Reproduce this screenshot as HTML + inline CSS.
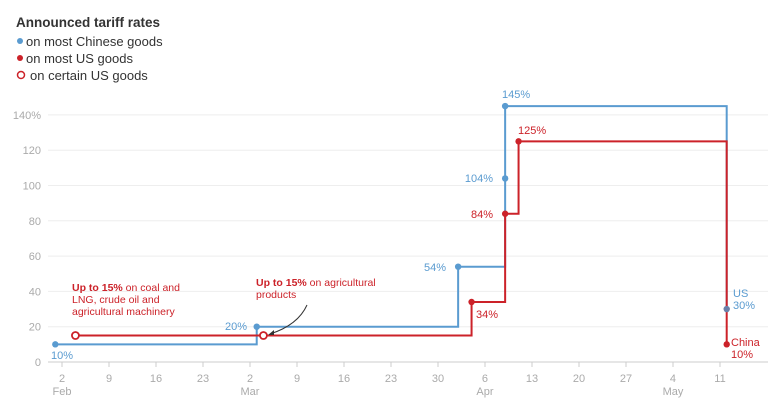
<!DOCTYPE html>
<html><head><meta charset="utf-8"><style>
body{margin:0;background:#fff;font-family:"Liberation Sans",sans-serif;}
svg text{font-family:"Liberation Sans",sans-serif;}
</style></head><body>
<svg width="780" height="401">
<g>
<text x="16" y="27" font-size="13.5" font-weight="bold" fill="#333">Announced tariff rates</text>
<circle cx="20" cy="41" r="3" fill="#5a9bd0"/><text x="26" y="46" font-size="13" fill="#333">on most Chinese goods</text>
<circle cx="20" cy="58" r="3" fill="#cc2229"/><text x="26" y="63" font-size="13" fill="#333">on most US goods</text>
<circle cx="21" cy="75" r="3.5" fill="#fff" stroke="#cc2229" stroke-width="1.5"/><text x="30" y="80" font-size="13" fill="#333">on certain US goods</text>
</g>
<g id="grid"></g><g id="xax"></g><g id="lines"></g><g id="labels"></g>
</svg>
<script>
const yTicks=[0,20,40,60,80,100,120,140];
const xTickDays=[1,8,15,22,29,36,43,50,57,64,71,78,85,92,99];
const xTickLabels=["2","9","16","23","2","9","16","23","30","6","13","20","27","4","11"];
const monthLabels=["Feb","","","","Mar","","","","","Apr","","","","May",""];
const blueDays=[0,30,60,67,67,100];
const blueValues=[10,20,54,104,145,30];
const redDays=[3,62,67,69,100];
const redValues=[15,34,84,125,10];
const openDays=[3,31];
const openValues=[15,15];
const NS="http://www.w3.org/2000/svg";
const X=d=>55.3+6.714*d;
const Y=v=>362-v*1.765;
function mk(tag,attrs,parent,txt){const e=document.createElementNS(NS,tag);for(const k in attrs)e.setAttribute(k,attrs[k]);if(txt!==undefined)e.textContent=txt;document.getElementById(parent).appendChild(e);return e;}
yTicks.forEach((t,i)=>{
 const l=mk('line',{x1:48,x2:768,y1:Y(t),y2:Y(t),stroke:t===0?'#ccc':'#eee','stroke-width':1},'grid');
 
 
 const tx=mk('text',{x:41,y:Y(t)+4,'font-size':11,fill:'#aaa','text-anchor':'end'},'grid',t===140?'140%':String(t));
 
 
});
xTickDays.forEach((d,i)=>{
 mk('line',{x1:X(d),x2:X(d),y1:362,y2:367,stroke:'#ccc'},'xax');
 const t=mk('text',{x:X(d),y:382,'font-size':11,fill:'#aaa','text-anchor':'middle'},'xax',xTickLabels[i]);
 
 
 if(monthLabels[i]){const m=mk('text',{x:X(d),y:395,'font-size':11,fill:'#aaa','text-anchor':'middle'},'xax',monthLabels[i]);
 
 }
});
function stepPath(days,vals){let p='M'+X(days[0])+','+Y(vals[0]);for(let i=1;i<days.length;i++){p+=' H'+X(days[i])+' V'+Y(vals[i]);}return p;}
const bl=mk('path',{d:stepPath(blueDays,blueValues),fill:'none',stroke:'#5a9bd0','stroke-width':2},'lines');


const rl=mk('path',{d:stepPath(redDays,redValues),fill:'none',stroke:'#cc2229','stroke-width':2},'lines');


blueDays.forEach((d,i)=>{const c=mk('circle',{cx:X(d),cy:Y(blueValues[i]),r:3.2,fill:i===5?'#6a7fa8':'#5a9bd0'},'lines');
 
 });
redDays.forEach((d,i)=>{if(i===0)return;const c=mk('circle',{cx:X(d),cy:Y(redValues[i]),r:3.2,fill:'#cc2229'},'lines');
 
 });
openDays.forEach((d,i)=>{const c=mk('circle',{cx:X(d),cy:Y(openValues[i]),r:3.5,fill:'#fff',stroke:'#cc2229','stroke-width':1.8},'lines');
 
 });
</script>
<svg style="position:absolute;left:0;top:0" width="780" height="401">
<g font-size="11">
<text x="51" y="359" fill="#5a9bd0">10%</text>
<text x="247" y="330" fill="#5a9bd0" text-anchor="end">20%</text>
<text x="446" y="271" fill="#5a9bd0" text-anchor="end">54%</text>
<text x="493" y="182" fill="#5a9bd0" text-anchor="end">104%</text>
<text x="502" y="98" fill="#5a9bd0">145%</text>
<text x="493" y="218" fill="#cc2229" text-anchor="end">84%</text>
<text x="518" y="134" fill="#cc2229">125%</text>
<text x="476" y="318" fill="#cc2229">34%</text>
<text x="733" y="297" fill="#5a9bd0">US</text><text x="733" y="309" fill="#5a9bd0">30%</text>
<text x="731" y="346" fill="#cc2229">China</text><text x="731" y="358" fill="#cc2229">10%</text>
</g>
<g font-size="10.5" fill="#cc2229">
<text x="72" y="291"><tspan font-weight="bold">Up to 15%</tspan> on coal and</text>
<text x="72" y="303">LNG, crude oil and</text>
<text x="72" y="315">agricultural machinery</text>
<text x="256" y="286"><tspan font-weight="bold">Up to 15%</tspan> on agricultural</text>
<text x="256" y="298">products</text>
</g>
<path d="M307,305 Q298,325 270,334" fill="none" stroke="#333" stroke-width="1"/>
<path d="M268,335 l6,-5 l0,5 z" fill="#333"/>
</svg>
</body></html>
